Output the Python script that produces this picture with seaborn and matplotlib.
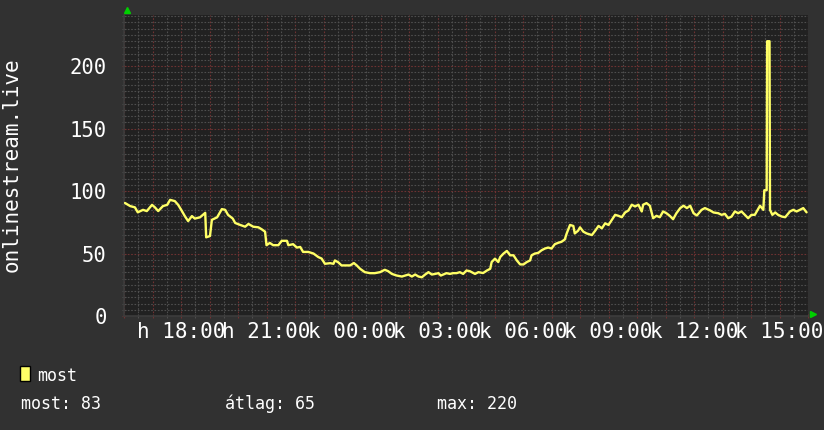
import matplotlib
matplotlib.use("Agg")
import matplotlib.pyplot as plt
from matplotlib.patches import Rectangle
from matplotlib.ticker import MultipleLocator, FuncFormatter
import numpy as np
import pandas as pd
import seaborn as sns

# ---- data (minutes after 16:00 on day "h", value) ----
minutes = [
    2, 13, 23, 29, 40, 48, 59, 65, 72, 82, 91, 97, 107, 114, 122, 128, 135, 143, 149, 160,
    171, 173, 181, 185, 196, 206, 213, 219, 229, 234,
    244, 255, 262, 272, 283, 290, 297, 300, 307, 314, 325, 332, 343, 346, 356, 364, 371, 377,
    388, 399, 409, 416, 423, 434, 441, 444, 451, 458, 469,
    476, 484, 490, 497, 507, 518, 528, 539, 549, 556, 564, 574, 585, 592, 599, 606, 613, 620,
    627, 634, 641, 648, 655, 662, 667, 672, 679, 686, 693, 700, 707, 714, 721, 728,
    739, 746, 756, 764, 771, 774, 781, 788, 792, 799, 806, 813, 820, 827, 834, 841, 848, 855,
    858, 865, 872, 879, 886, 893, 900, 907, 914, 921, 928, 932, 939, 946, 949, 956, 960, 967,
    974, 985, 992, 999, 1006, 1013, 1020, 1027, 1034, 1041, 1048, 1055, 1062, 1069, 1076, 1083,
    1090, 1093, 1100, 1107, 1114, 1121, 1128, 1135, 1142, 1149, 1156, 1163, 1171, 1178, 1185,
    1192, 1199, 1206,
    1216, 1223, 1234, 1241, 1251, 1258, 1265, 1272, 1279, 1286, 1293, 1300, 1307, 1314, 1321,
    1328, 1339, 1346, 1348, 1353, 1354, 1359, 1360, 1365, 1371, 1377, 1385, 1392, 1402, 1409,
    1416, 1423, 1430, 1437,
]
values = [
    90.5, 88, 87, 83, 85, 84, 89, 87, 84, 88, 89, 93, 92, 89, 84, 80, 76, 80, 78, 79,
    82.6, 63, 64, 77, 79, 85.6, 85, 81, 78, 74.5,
    73, 71.5, 73.7, 71.5, 71, 69.4, 67.5, 56.7, 58.5, 56.7, 56.7, 60.2, 60.2, 56.7, 57.5, 54.8,
    55.3, 51.3, 51.3, 50, 47.2, 46, 41.8, 42.3, 41.8, 44.5, 43, 40.5, 40.5,
    40.5, 42.4, 40.5, 37.8, 35.1, 34.3, 34.3, 35.1, 37, 35.9, 33.7, 32.4, 31.6, 32.4, 33.2, 31.6,
    33.2, 31.6, 31, 33.2, 35.1, 33.2, 33.7, 34.3, 32.4, 33.2, 34.3, 33.7, 34.3, 34.3, 35.1, 33.7,
    36.4, 35.9,
    33.7, 35.1, 34.4, 36.4, 37.8, 43.2, 45.9, 43.2, 47.2, 50, 52.1, 48.6, 48.6, 44.5, 41.3, 41.3,
    43.2, 44.5, 48.6, 50, 50.5, 52.6, 54, 54.8, 54, 57.5, 58.6, 59.4, 61.3, 66.1, 72.9, 72.1,
    66.1, 68.3, 71, 67.5,
    66.1, 64.8, 68.3, 72.1, 70.2, 74.2, 72.9, 76.9, 81, 80.2, 79.1, 82.9, 84.5, 89.1, 87.7, 89.1,
    83.7, 89.1, 90.4, 88.3, 78.3, 80.2, 79.1, 83.7, 82.3, 80.2, 77.5, 82.3, 86.4, 88.3, 86.4,
    88.3, 82.3, 80.5,
    85, 86.4, 84.5, 82.9, 82.3, 81, 81.8, 78.3, 79.6, 83.7, 82.3, 83.7, 81, 78.3, 81,
    81, 88.3, 85, 100.7, 100.7, 220, 220, 85, 81, 82.9, 81, 79.6, 79.1, 83.7, 85,
    83.7, 85, 86.4, 83,
]

tick_minutes = [120, 300, 480, 660, 840, 1020, 1200, 1380]
tick_labels = ["h 18:00", "h 21:00", "k 00:00", "k 03:00", "k 06:00", "k 09:00", "k 12:00", "k 15:00"]
y_axis_label = "onlinestream.live"
series_name = "most"
stat_texts = ["most: 83", "átlag: 65", "max: 220"]

# ---- style ----
BG = "#313131"
CANVAS = "#212121"
LINE = "#ffff66"
MINOR = "#4e4e4e"
MAJOR = "#6e3232"
TXT = "#ffffff"
ARROW = "#00d000"

sns.set_theme(style="dark")
plt.rcParams["font.family"] = ["DejaVu Sans Mono", "DejaVu Sans"]

W, H = 824, 430
fig = plt.figure(figsize=(W / 100, H / 100), dpi=100, facecolor=BG)
L, R, T, B = 124, 808, 15, 316
ax = fig.add_axes([L / W, 1 - B / H, (R - L) / W, (B - T) / H])
ax.set_facecolor(CANVAS)

df = pd.DataFrame({"t": minutes, "v": values})
sns.lineplot(data=df, x="t", y="v", ax=ax, color=LINE, linewidth=1.7,
             estimator=None, sort=False, zorder=5)

ax.set_xlim(0, 1440)
ax.set_ylim(0, 241)
ax.set_xlabel("")
ax.set_ylabel("")

lab_map = dict(zip(tick_minutes, tick_labels))
ax.xaxis.set_major_locator(MultipleLocator(60))
ax.xaxis.set_minor_locator(MultipleLocator(30))
ax.xaxis.set_major_formatter(FuncFormatter(lambda v, p: lab_map.get(int(round(v)), "")))
ax.yaxis.set_major_locator(MultipleLocator(50))
ax.yaxis.set_minor_locator(MultipleLocator(5))
ax.yaxis.set_major_formatter(FuncFormatter(lambda v, p: f"{int(v)}"))

ax.set_axisbelow(True)
ax.grid(which="minor", color=MINOR, linestyle=(0, (1.5, 1.5)), linewidth=0.8)
ax.grid(which="major", color=MAJOR, linestyle=(0, (1.5, 1.5)), linewidth=0.8)

ax.tick_params(axis="x", which="major", direction="inout", length=3, width=0.8,
               color=MAJOR, labelcolor=TXT, labelsize=15, pad=3)
ax.tick_params(axis="x", which="minor", direction="inout", length=3, width=0.8, color=MINOR)
ax.tick_params(axis="y", which="major", direction="inout", length=3, width=0.8,
               color=MAJOR, labelcolor=TXT, labelsize=14.8, pad=11)
ax.tick_params(axis="y", which="minor", direction="inout", length=3, width=0.8, color=MINOR)
ax.tick_params(bottom=True, left=True, which="both")

for s in ["top", "right"]:
    ax.spines[s].set_visible(False)
for s in ["left", "bottom"]:
    ax.spines[s].set_visible(True)
    ax.spines[s].set_color("#3c3c3c")
    ax.spines[s].set_linewidth(1.2)

# green axis arrows
ax.plot([0.004], [1.016], marker="^", color=ARROW, markersize=5, clip_on=False,
        transform=ax.transAxes, zorder=10)
ax.plot([1.008], [0.005], marker=">", color=ARROW, markersize=5, clip_on=False,
        transform=ax.transAxes, zorder=10)

# y axis title
fig.text(12 / W, 1 - 165 / H, y_axis_label, rotation=90, ha="center", va="center",
         color=TXT, fontsize=15)

# legend
fig.patches.append(Rectangle((20 / W, 1 - 381 / H), 10 / W, 15 / H, transform=fig.transFigure,
                             facecolor=LINE, edgecolor="black", linewidth=1))
fig.text(37 / W, 1 - 381 / H, series_name, ha="left", va="baseline", color=TXT, fontsize=12)
for x0, s in zip([20.7, 225, 437], stat_texts):
    fig.text(x0 / W, 1 - 409 / H, s, ha="left", va="baseline", color=TXT, fontsize=12)

fig.savefig("out.png", dpi=100, facecolor=BG)
